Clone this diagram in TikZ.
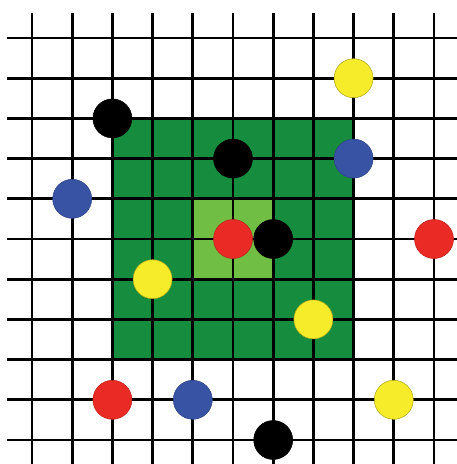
\documentclass[tikz,border=0pt]{standalone}
\definecolor{dkgreen}{RGB}{22,140,62}
\definecolor{ltgreen}{RGB}{112,190,68}
\definecolor{dotyellow}{RGB}{246,236,42}
\definecolor{dotred}{RGB}{234,42,36}
\definecolor{dotblue}{RGB}{56,82,164}
\begin{document}
\begin{tikzpicture}[x=1pt,y=-1pt,
  gridline/.style={line width=2.8pt,black},
  dot/.style={circle,minimum size=39pt,inner sep=0pt,line width=0.5pt},
  blackdot/.style={dot,fill=black,draw=black},
  yellowdot/.style={dot,fill=dotyellow,draw=dotyellow!70!black},
  reddot/.style={dot,fill=dotred,draw=dotred!80!black},
  bluedot/.style={dot,fill=dotblue,draw=dotblue!80!black}]
\useasboundingbox (0,0) rectangle (457,464);
\pgfmathsetmacro{\gs}{40.2}
% green regions
\fill[dkgreen] (32+2*\gs,38+2*\gs) rectangle (32+8*\gs,38+8*\gs);
\fill[ltgreen] (32+4*\gs,38+4*\gs) rectangle (32+6*\gs,38+6*\gs);
% grid
\foreach \i in {0,...,10} {
  \draw[gridline] (32+\i*\gs,13) -- (32+\i*\gs,464);
  \draw[gridline] (7,38+\i*\gs) -- (457,38+\i*\gs);
}
% dots
\node[blackdot]  (k1) at (32+2*\gs,38+2*\gs) {};
\node[yellowdot] (y1) at (32+8*\gs,38+1*\gs) {};
\node[blackdot]  (k2) at (32+5*\gs,38+3*\gs) {};
\node[bluedot]   (b1) at (32+8*\gs,38+3*\gs) {};
\node[bluedot]   (b2) at (32+1*\gs,38+4*\gs) {};
\node[reddot]    (r1) at (32+5*\gs,38+5*\gs) {};
\node[blackdot]  (k3) at (32+6*\gs,38+5*\gs) {};
\node[reddot]    (r2) at (32+10*\gs,38+5*\gs) {};
\node[yellowdot] (y2) at (32+3*\gs,38+6*\gs) {};
\node[yellowdot] (y3) at (32+7*\gs,38+7*\gs) {};
\node[reddot]    (r3) at (32+2*\gs,38+9*\gs) {};
\node[bluedot]   (b3) at (32+4*\gs,38+9*\gs) {};
\node[yellowdot] (y4) at (32+9*\gs,38+9*\gs) {};
\node[blackdot]  (k4) at (32+6*\gs,38+10*\gs) {};
\end{tikzpicture}
\end{document}
